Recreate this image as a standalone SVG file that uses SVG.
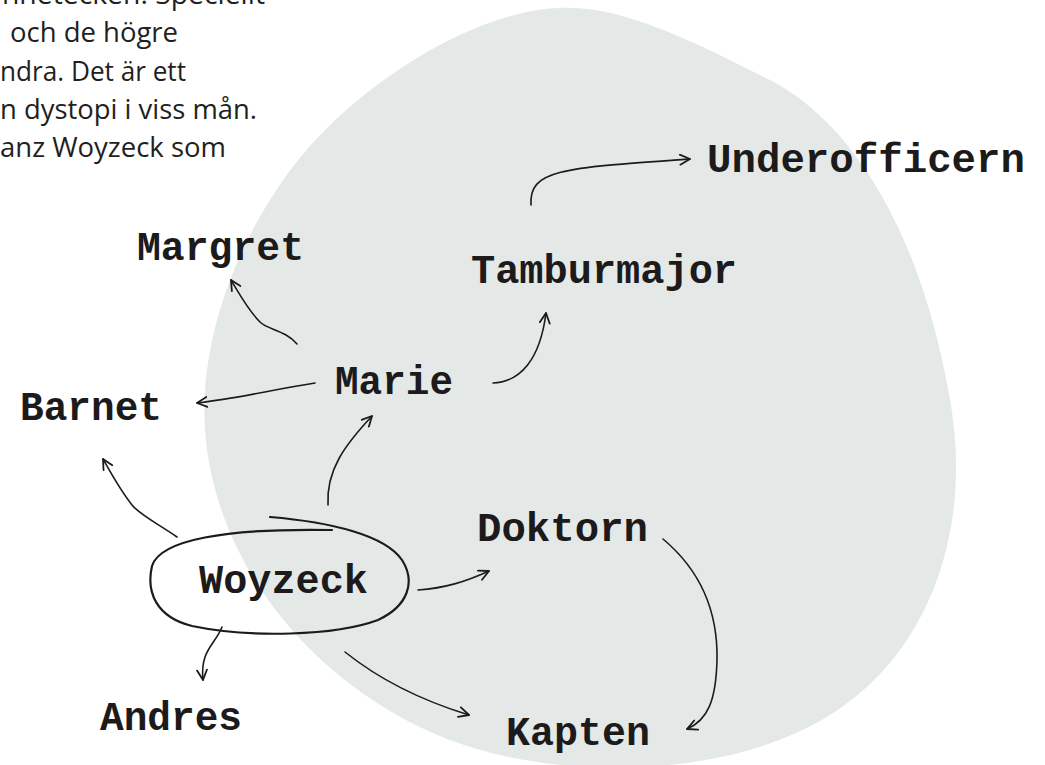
<svg xmlns="http://www.w3.org/2000/svg" width="1045" height="765" viewBox="0 0 1045 765">
<defs>
<style>
.para{font-family:"Open Sans","Liberation Sans",sans-serif;font-size:28px;fill:#231f20}
.lbl{font-family:"Liberation Mono","DejaVu Sans Mono",monospace;font-size:40px;font-weight:bold;fill:#1c1a1a}
.con{fill:none;stroke:#1c1a1a;stroke-width:1.6;stroke-linecap:round}
</style>
<marker id="ah" viewBox="0 0 12 12" refX="11" refY="6" markerWidth="12" markerHeight="12" markerUnits="userSpaceOnUse" orient="auto">
<path d="M1,1 L11,6 L1,11" fill="none" stroke="#1c1a1a" stroke-width="1.8" stroke-linecap="round" stroke-linejoin="round"/>
</marker>
</defs>
<rect width="1045" height="765" fill="#ffffff"/>
<path id="blob" d="M 560 8 C 620 5, 690 40, 760 75 C 860 120, 925 250, 950 400 C 972 520, 935 650, 830 715 C 730 778, 560 782, 450 740 C 320 690, 215 570, 205 430 C 198 320, 255 200, 325 130 C 395 60, 490 10, 560 8 Z" fill="#e4e9e7"/>
<g id="paragraph">
<text class="para" x="2" y="4" textLength="263" lengthAdjust="spacingAndGlyphs">nnetecken. Speciellt</text>
<text class="para" x="10" y="42" textLength="168" lengthAdjust="spacingAndGlyphs">och de högre</text>
<text class="para" x="0" y="81" textLength="186" lengthAdjust="spacingAndGlyphs">ndra. Det är ett</text>
<text class="para" x="0" y="119" textLength="257" lengthAdjust="spacingAndGlyphs">n dystopi i viss mån.</text>
<text class="para" x="0" y="157" textLength="226" lengthAdjust="spacingAndGlyphs">anz Woyzeck som</text>
</g>
<g id="connectors">
<path class="con" marker-end="url(#ah)" d="M 531 205 C 529 170, 560 168, 690 159"/>
<path class="con" marker-end="url(#ah)" d="M 493 383 C 520 382, 540 360, 546 313"/>
<path class="con" marker-end="url(#ah)" d="M 297 344 C 285 330, 268 330, 260 322 C 248 310, 240 295, 231 280"/>
<path class="con" marker-end="url(#ah)" d="M 315 383 C 270 390, 240 398, 197 403"/>
<path class="con" marker-end="url(#ah)" d="M 328 505 C 326 470, 345 445, 372 416"/>
<path class="con" marker-end="url(#ah)" d="M 177 537 C 160 525, 140 515, 132 505 C 120 490, 112 475, 103 459"/>
<path class="con" marker-end="url(#ah)" d="M 418 590 C 445 588, 465 582, 489 571"/>
<path class="con" marker-end="url(#ah)" d="M 222 627 C 215 645, 200 650, 203 680"/>
<path class="con" marker-end="url(#ah)" d="M 345 652 C 380 680, 420 700, 469 715"/>
<path class="con" marker-end="url(#ah)" d="M 663 539 C 700 570, 718 610, 717 660 C 716 700, 708 720, 687 729"/>
</g>
<g id="node-underofficern"><text class="lbl" x="707" y="172" textLength="318" lengthAdjust="spacingAndGlyphs">Underofficern</text></g>
<g id="node-tamburmajor"><text class="lbl" x="471" y="283" textLength="266" lengthAdjust="spacingAndGlyphs">Tamburmajor</text></g>
<g id="node-margret"><text class="lbl" x="137" y="260" textLength="167" lengthAdjust="spacingAndGlyphs">Margret</text></g>
<g id="node-marie"><text class="lbl" x="335" y="394" textLength="118" lengthAdjust="spacingAndGlyphs">Marie</text></g>
<g id="node-barnet"><text class="lbl" x="20" y="420" textLength="142" lengthAdjust="spacingAndGlyphs">Barnet</text></g>
<g id="node-woyzeck">
<path d="M 270 517 C 330 522, 385 535, 402 560 C 416 582, 408 606, 378 620 C 335 636, 250 638, 192 626 C 156 617, 146 592, 152 566 C 160 540, 225 528, 332 530" fill="none" stroke="#1c1a1a" stroke-width="2.2" stroke-linecap="round"/>
<text class="lbl" x="199" y="593" textLength="169" lengthAdjust="spacingAndGlyphs">Woyzeck</text>
</g>
<g id="node-doktorn"><text class="lbl" x="477" y="541" textLength="171" lengthAdjust="spacingAndGlyphs">Doktorn</text></g>
<g id="node-andres"><text class="lbl" x="100" y="730" textLength="142" lengthAdjust="spacingAndGlyphs">Andres</text></g>
<g id="node-kapten"><text class="lbl" x="506" y="745" textLength="144" lengthAdjust="spacingAndGlyphs">Kapten</text></g>
</svg>
